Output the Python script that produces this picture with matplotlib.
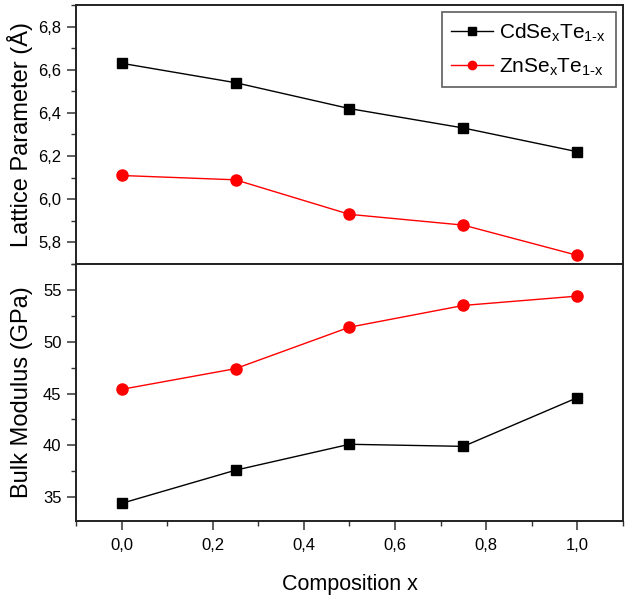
import numpy as np
import matplotlib
matplotlib.use("Agg")
import matplotlib.pyplot as plt
from matplotlib.ticker import MultipleLocator, FuncFormatter

plt.rcParams['font.family'] = ['Liberation Sans', 'DejaVu Sans']
plt.rcParams['mathtext.fontset'] = 'custom'
plt.rcParams['mathtext.rm'] = 'Liberation Sans'
plt.rcParams['mathtext.it'] = 'Liberation Sans'

composition = [0.0, 0.25, 0.5, 0.75, 1.0]
lattice_cd = [6.63, 6.54, 6.42, 6.33, 6.22]
lattice_zn = [6.11, 6.09, 5.93, 5.88, 5.74]
bulk_cd = [34.4, 37.6, 40.1, 39.9, 44.6]
bulk_zn = [45.4, 47.4, 51.4, 53.5, 54.4]
labels = [r'CdSe$_{\mathregular{x}}$Te$_{\mathregular{1\text{-}x}}$',
          r'ZnSe$_{\mathregular{x}}$Te$_{\mathregular{1\text{-}x}}$']

fig = plt.figure(figsize=(6.28, 6.02), dpi=100)
ax1 = fig.add_axes([0.121, 0.5615, 0.871, 0.4302])
ax2 = fig.add_axes([0.121, 0.1346, 0.871, 0.4269], sharex=ax1)


def comma(v, pos, fmt):
    return (fmt % v).replace('.', ',')


ax1.plot(composition, lattice_cd, color='black', marker='s', ms=7, lw=1, label=labels[0])
ax1.plot(composition, lattice_zn, color='red', marker='o', ms=8, lw=1, label=labels[1])
ax2.plot(composition, bulk_cd, color='black', marker='s', ms=7, lw=1)
ax2.plot(composition, bulk_zn, color='red', marker='o', ms=8, lw=1)

ax1.set_ylim(5.70, 6.90)
ax2.set_ylim(32.7, 57.5)
ax2.set_xlim(-0.1, 1.1)

ax1.yaxis.set_major_locator(MultipleLocator(0.2))
ax1.yaxis.set_minor_locator(MultipleLocator(0.1))
ax1.yaxis.set_major_formatter(FuncFormatter(lambda v, p: comma(v, p, '%.1f')))
ax2.yaxis.set_major_locator(MultipleLocator(5))
ax2.yaxis.set_minor_locator(MultipleLocator(2.5))
ax2.xaxis.set_major_locator(MultipleLocator(0.2))
ax2.xaxis.set_minor_locator(MultipleLocator(0.1))
ax2.xaxis.set_major_formatter(FuncFormatter(lambda v, p: comma(v, p, '%.1f')))

for ax in (ax1, ax2):
    for s in ax.spines.values():
        s.set_linewidth(1.4)
        s.set_color('#222222')
    ax.tick_params(which='major', direction='out', length=6.5, width=1.1,
                   labelsize=12, pad=4, color='#333333')
    ax.tick_params(which='minor', direction='out', length=3.5, width=1.0, color='#333333')
    ax.tick_params(right=False, top=False)
ax1.tick_params(axis='x', which='both', bottom=False, labelbottom=False)
ax2.tick_params(axis='x', which='major', pad=6)

ax1.set_ylabel('Lattice Parameter (Å)', fontsize=17)
ax2.set_ylabel('Bulk Modulus (GPa)', fontsize=17)
ax2.set_xlabel('Composition x', fontsize=15.5, labelpad=15)
ax1.yaxis.set_label_coords(-0.078, 0.5)
ax2.yaxis.set_label_coords(-0.078, 0.5)

leg = ax1.legend(loc='upper right', fontsize=15, frameon=True, fancybox=False,
                 edgecolor='#333333', handlelength=2.0, handletextpad=0.3,
                 borderaxespad=0.35, markerscale=0.75, borderpad=0.45,
                 labelspacing=0.6)
leg.get_frame().set_linewidth(1.2)

fig.savefig('out.png', dpi=100)
